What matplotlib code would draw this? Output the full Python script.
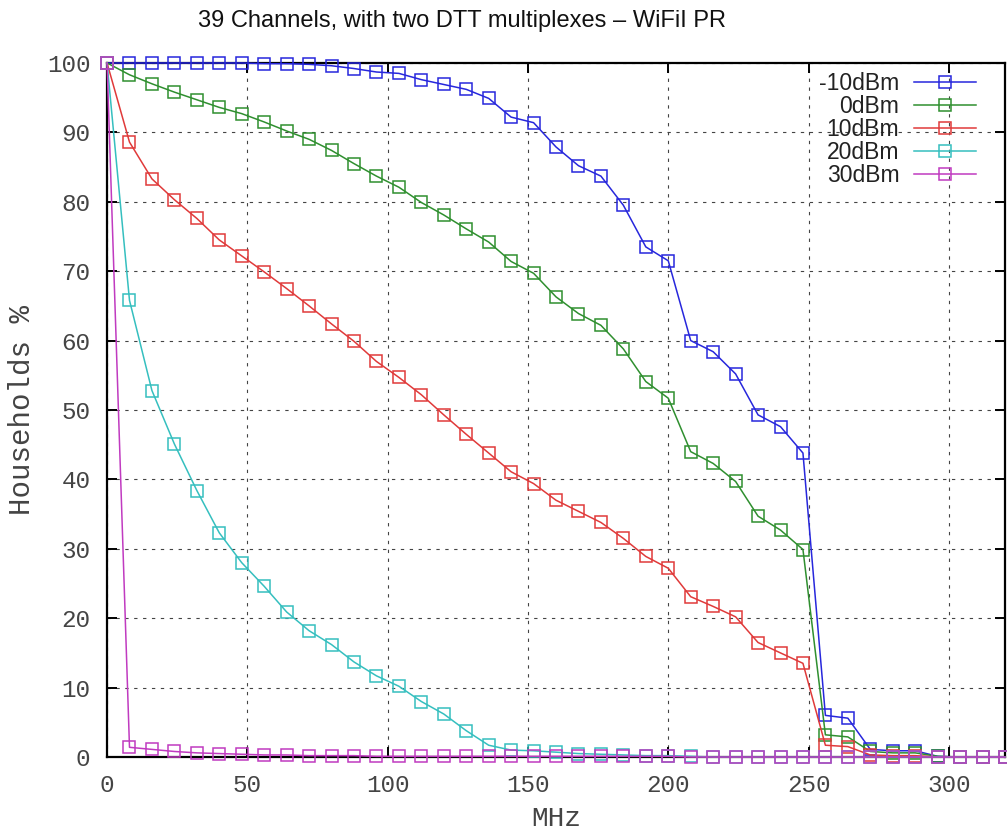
"""Households coverage vs. cleared spectrum, 39 channels with two DTT multiplexes."""

import matplotlib

matplotlib.use("Agg")
import matplotlib.pyplot as plt


FREQ_MHZ = [
    0, 8, 16, 24, 32, 40, 48, 56, 64, 72, 80, 88, 96, 104, 112, 120, 128,
    136, 144, 152, 160, 168, 176, 184, 192, 200, 208, 216, 224, 232, 240,
    248, 256, 264, 272, 280, 288, 296, 304, 312, 320,
]

HH_MINUS10 = [
    100, 100, 100, 100, 100, 100, 100, 99.9, 99.9, 99.8, 99.6, 99.2, 98.7,
    98.5, 97.6, 96.9, 96.2, 94.9, 92.2, 91.4, 87.9, 85.2, 83.7, 79.5, 73.5,
    71.5, 60.0, 58.4, 55.2, 49.3, 47.6, 43.8, 6.0, 5.6, 1.1, 0.9, 0.9, 0.1,
    0, 0, 0,
]
HH_0 = [
    100, 98.3, 97.0, 95.8, 94.7, 93.6, 92.7, 91.5, 90.2, 89.0, 87.4, 85.5,
    83.7, 82.1, 79.9, 78.1, 76.1, 74.2, 71.4, 69.7, 66.3, 63.9, 62.2, 58.8,
    54.1, 51.7, 44.0, 42.3, 39.7, 34.7, 32.7, 29.9, 3.2, 2.9, 0.8, 0.6, 0.6,
    0.1, 0, 0, 0,
]
HH_10 = [
    100, 88.6, 83.3, 80.3, 77.6, 74.5, 72.2, 69.9, 67.5, 65.0, 62.4, 59.9,
    57.0, 54.7, 52.2, 49.3, 46.5, 43.8, 41.1, 39.4, 37.0, 35.4, 33.8, 31.5,
    28.9, 27.2, 23.1, 21.7, 20.2, 16.5, 15.0, 13.5, 1.7, 1.5, 0.3, 0.2, 0.2,
    0, 0, 0, 0,
]
HH_20 = [
    100, 65.8, 52.8, 45.1, 38.4, 32.3, 28.0, 24.6, 20.9, 18.2, 16.2, 13.7,
    11.7, 10.2, 8.0, 6.2, 3.8, 1.7, 1.0, 0.9, 0.7, 0.5, 0.4, 0.3, 0.2, 0.2,
    0.1, 0, 0, 0, 0, 0, 0, 0, 0, 0, 0, 0, 0, 0, 0,
]
HH_30 = [
    100, 1.4, 1.1, 0.8, 0.6, 0.5, 0.4, 0.3, 0.3, 0.2, 0.2, 0.2, 0.1, 0.1,
    0.1, 0.1, 0.1, 0.1, 0.1, 0.1, 0.1, 0.1, 0.1, 0.1, 0.1, 0.1, 0, 0, 0, 0,
    0, 0, 0, 0, 0, 0, 0, 0, 0, 0, 0,
]

SERIES_LABELS = ["-10dBm", "0dBm", "10dBm", "20dBm", "30dBm"]
SERIES_VALUES = [HH_MINUS10, HH_0, HH_10, HH_20, HH_30]
SERIES_COLORS = ["#2727dc", "#2f8f2f", "#e03a3a", "#35bfbf", "#c03ac0"]

TITLE = "39 Channels, with two DTT multiplexes \u2013 WiFiI PR"
MONO = "Liberation Mono"
SANS = "Liberation Sans"


figure = plt.figure(figsize=(10.07, 8.33), dpi=100)
axis = figure.add_axes([0.1063, 0.0912, 0.8917, 0.8332])

for label, values, color in zip(SERIES_LABELS, SERIES_VALUES, SERIES_COLORS):
    axis.plot(
        FREQ_MHZ,
        values,
        color=color,
        linewidth=1.1,
        marker="s",
        markersize=8,
        markerfacecolor="none",
        markeredgewidth=1.1,
        label=label,
        clip_on=False,
        zorder=3,
    )

axis.set_xlim(0, 320)
axis.set_ylim(0, 100)
axis.set_xticks([0, 50, 100, 150, 200, 250, 300])
axis.set_yticks(range(0, 101, 10))
axis.tick_params(
    direction="in", length=7, width=1.4, top=True, right=True,
    labelsize=17.5, pad=12,
)
for tick_label in axis.get_xticklabels() + axis.get_yticklabels():
    tick_label.set_fontfamily(MONO)
    tick_label.set_color("#444444")

for spine in axis.spines.values():
    spine.set_linewidth(1.6)

axis.grid(True, color="#444444", linewidth=0.8, linestyle=(0, (3, 5)))
axis.set_axisbelow(True)

axis.set_xlabel("MHz", fontfamily=MONO, fontsize=20, color="#444444", labelpad=7)
axis.set_ylabel("Households %", fontfamily=MONO, fontsize=21, color="#444444", labelpad=8)

legend = axis.legend(
    loc="upper right",
    bbox_to_anchor=(0.978, 1.0),
    frameon=False,
    markerfirst=False,
    prop={"family": SANS, "size": 16.5},
    handlelength=2.7,
    handletextpad=0.65,
    labelspacing=0.0,
    borderaxespad=0.0,
)
for text in legend.get_texts():
    text.set_color("#222222")

figure.text(0.459, 0.975, TITLE, ha="center", va="center",
            fontfamily=SANS, fontsize=17, color="#111111")

figure.savefig("out.png", dpi=100)
plt.close(figure)
